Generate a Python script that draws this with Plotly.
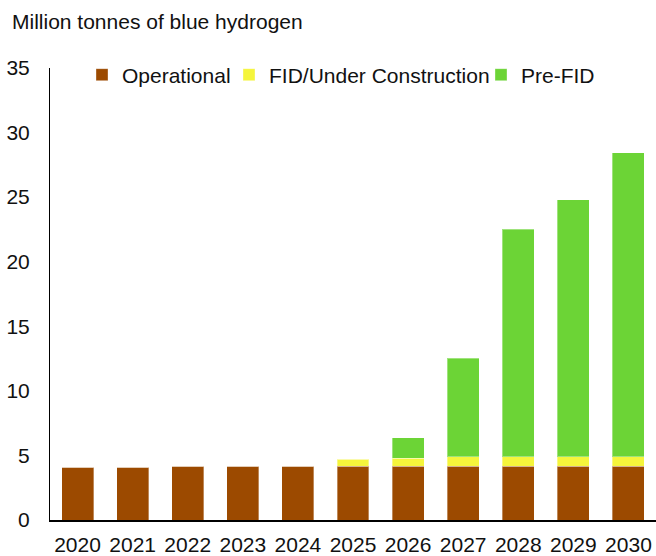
import plotly.graph_objects as go

years = ["2020", "2021", "2022", "2023", "2024", "2025", "2026", "2027", "2028", "2029", "2030"]
operational = [4.10, 4.10, 4.18, 4.18, 4.18, 4.18, 4.18, 4.18, 4.18, 4.18, 4.18]
fid_under_construction = [0, 0, 0, 0, 0, 0.52, 0.62, 0.72, 0.72, 0.72, 0.72]
pre_fid = [0, 0, 0, 0, 0, 0.05, 1.55, 7.62, 17.61, 19.88, 23.54]

y_ticks = [0, 5, 10, 15, 20, 25, 30, 35]

series = [
    ("Operational", operational, "#9C4A00", "legend"),
    ("FID/Under Construction", fid_under_construction, "#F5F53C", "legend2"),
    ("Pre-FID", pre_fid, "#6CD436", "legend3"),
]

fig = go.Figure()
for name, vals, color, leg in series:
    fig.add_trace(go.Bar(
        x=years, y=vals, name=name, legend=leg,
        marker=dict(color=color, line=dict(color="rgba(255,255,255,0.35)", width=1)),
    ))

font_family = "Liberation Sans, Arial, sans-serif"
FS = 21
PW = 606.0
PH = 452.0
leg_y = 1 - 7 / PH


def leg(left_px):
    return dict(
        orientation="h", x=(left_px - 50) / PW, y=leg_y, xanchor="left", yanchor="middle",
        font=dict(size=FS), bgcolor="rgba(0,0,0,0)",
    )


fig.update_layout(
    barmode="stack",
    bargap=0.42,
    width=656, height=556,
    margin=dict(l=50, r=0, t=68, b=36, autoexpand=False),
    plot_bgcolor="white", paper_bgcolor="white",
    font=dict(family=font_family, size=FS, color="#111111"),
    showlegend=True,
    legend=leg(82),
    legend2=leg(229),
    legend3=leg(481),
)
fig.add_annotation(
    text="Million tonnes of blue hydrogen",
    xref="paper", yref="paper", x=-40 / PW, y=1 + 46 / PH,
    xanchor="left", yanchor="middle", showarrow=False,
    font=dict(size=FS, family=font_family, color="#111111"),
)
fig.update_xaxes(
    showline=True, linecolor="black", linewidth=1.5, ticks="", showgrid=False,
    tickfont=dict(size=FS), range=[-0.5, 10.5], automargin=False,
    ticklabelstandoff=5,
)
fig.update_yaxes(
    showline=True, linecolor="black", linewidth=1, ticks="", showgrid=False,
    range=[0, 35], tickvals=y_ticks, tickfont=dict(size=FS), ticklabelstandoff=15,
    zeroline=False, automargin=False,
)

fig.write_html(
    "out.html",
    config={"displayModeBar": False},
    post_script="document.body.style.margin='0';",
)
